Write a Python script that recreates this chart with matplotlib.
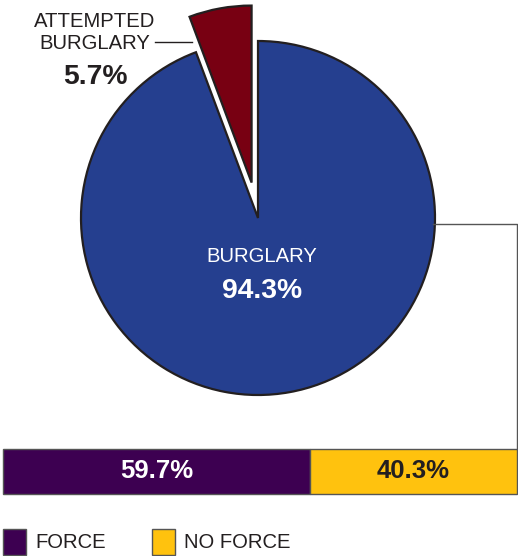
import matplotlib
matplotlib.use("Agg")
import matplotlib.pyplot as plt
from matplotlib.patches import Rectangle
import numpy as np

# Data
pie_labels = ["ATTEMPTED\nBURGLARY", "BURGLARY"]
pie_values = [5.7, 94.3]
pie_colors = ["#780012", "#253F8F"]
bar_labels = ["FORCE", "NO FORCE"]
bar_values = [59.7, 40.3]
bar_colors = ["#3D0051", "#FFC20E"]
bar_text_colors = ["white", "#231F20"]

W, H = 518, 556
plt.rcParams['font.family'] = ['Liberation Sans', 'DejaVu Sans']
fig = plt.figure(figsize=(W / 100, H / 100), dpi=100)
ax = fig.add_axes([0, 0, 1, 1])

def Y(p):
    return H - p

edge = "#231F20"
cx, cy, R = 258, Y(218), 177
ax.pie(pie_values, colors=pie_colors, startangle=90, counterclock=True,
       explode=[36, 0], center=(cx, cy), radius=R, frame=True,
       wedgeprops=dict(edgecolor=edge, linewidth=1.6))
ax.set_xlim(0, W)
ax.set_ylim(0, H)
ax.set_aspect('auto')
ax.axis('off')

# Pie labels
ax.text(95, Y(32.5), pie_labels[0], ha='center', va='center', fontsize=14.6,
        color=edge, linespacing=1.22)
ax.plot([155, 192], [Y(42), Y(42)], color=edge, lw=1)
ax.text(95, Y(77), f"{pie_values[0]}%", ha='center', va='center', fontsize=20.3,
        fontweight='bold', color=edge)
ax.text(262, Y(257), pie_labels[1], ha='center', va='center', fontsize=14.6,
        color='white')
ax.text(262, Y(291), f"{pie_values[1]}%", ha='center', va='center', fontsize=20.3,
        fontweight='bold', color='white')

# Connector
ax.plot([433, 517, 517], [Y(224), Y(224), Y(449)], color="#555555", lw=1)

# Bar
bar_left, bar_total = 3, 514
bar_y, bar_h = Y(471.5), 45
left = bar_left
for v, c, tc in zip(bar_values, bar_colors, bar_text_colors):
    w = v / 100 * bar_total
    ax.barh(bar_y, w, left=left, height=bar_h, color=c, edgecolor="#555555", linewidth=1)
    ax.text(left + w / 2, bar_y, f"{v}%", ha='center', va='center', fontsize=18.5,
            fontweight='bold', color=tc)
    left += w

# Legend
leg_x = [3, 152]
for lx, lab, c in zip(leg_x, bar_labels, bar_colors):
    ax.add_patch(Rectangle((lx, Y(555)), 23, 26, facecolor=c, edgecolor="#555555", lw=1))
    ax.text(lx + 32, Y(543), lab, ha='left', va='center', fontsize=14.6, color=edge)

fig.savefig("out.png", dpi=100)
